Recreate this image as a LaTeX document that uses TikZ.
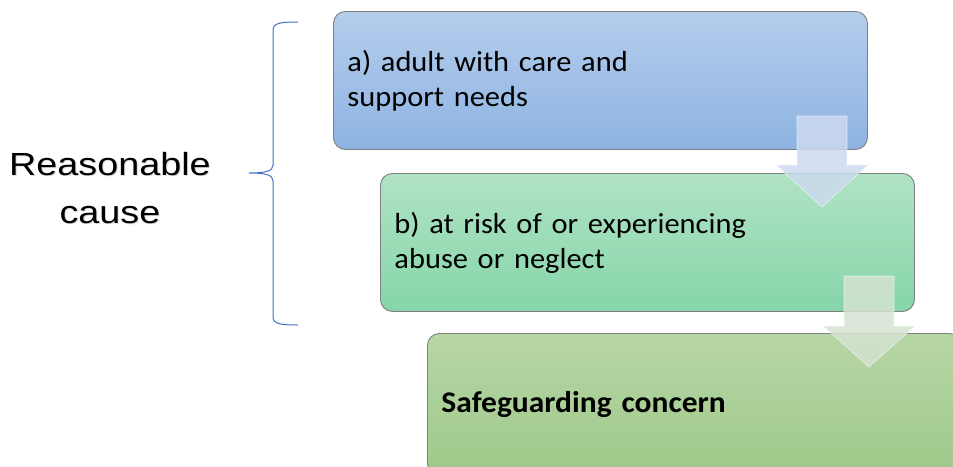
\documentclass[tikz,border=0pt]{standalone}
\usepackage{fontspec}
\setmainfont[FakeStretch=1.05]{Carlito}
\newfontfamily\arialf[FakeStretch=1.18]{Liberation Sans}
\definecolor{boxborder}{HTML}{7F7F7F}
\definecolor{aTop}{HTML}{B4CDEC}
\definecolor{aBot}{HTML}{8EB3E2}
\definecolor{bTop}{HTML}{B0E3C5}
\definecolor{bBot}{HTML}{86D5A9}
\definecolor{cTop}{HTML}{B7D6A5}
\definecolor{cBot}{HTML}{9EC98A}
\definecolor{arrA}{HTML}{CCDAEE}
\definecolor{arrB}{HTML}{D4E3D2}
\definecolor{braceblue}{HTML}{4472C4}
\begin{document}
\begin{tikzpicture}[x=1pt,y=-1pt]
\useasboundingbox (0,0) rectangle (953,466);
\clip (0,0) rectangle (953,466);
\tikzset{
  box/.style={draw=boxborder, line width=0.9pt, rounded corners=12pt,
    minimum width=534pt, minimum height=138pt, text width=506pt,
    align=left, inner sep=0pt, anchor=north west,
    font=\fontsize{29}{35}\selectfont},
  flowarrow/.style={line width=0.6pt, fill opacity=0.85, draw opacity=0.6},
  bracestyle/.style={draw=braceblue, line width=1pt}
}
\node[box, top color=aTop, bottom color=aBot] (a) at (333,11) {a) adult with care and\\support needs};
\node[box, top color=bTop, bottom color=bBot] (b) at (380,173) {b) at risk of or experiencing\\abuse or neglect};
\node[box, top color=cTop, bottom color=cBot, minimum height=142pt, font=\fontsize{30}{35}\selectfont\bfseries] (c) at (427,333) {Safeguarding concern};
% block arrows
\fill[flowarrow, fill=arrA, draw=white] (797,116) -- (847,116) -- (847,165) -- (868,165) -- (822,207) -- (776,165) -- (797,165) -- cycle;
\fill[flowarrow, fill=arrB, draw=white] (844,276) -- (894,276) -- (894,326) -- (915,326) -- (869,367) -- (823,326) -- (844,326) -- cycle;
% brace
\draw[bracestyle] (298,22) .. controls (281,22) and (273,23) .. (273,30) -- (273,165)
  .. controls (273,171) and (266,173) .. (249,173)
  .. controls (266,173) and (273,175) .. (273,181) -- (273,317)
  .. controls (273,324) and (281,325) .. (298,325);
% label
\node[text=black!40, opacity=0.35, align=center, font=\arialf\fontsize{32}{48}\selectfont] at (111,189) {Reasonable\\cause};
\node[align=center, font=\arialf\fontsize{32}{48}\selectfont] (rc) at (110,188) {Reasonable\\cause};
\end{tikzpicture}
\end{document}
